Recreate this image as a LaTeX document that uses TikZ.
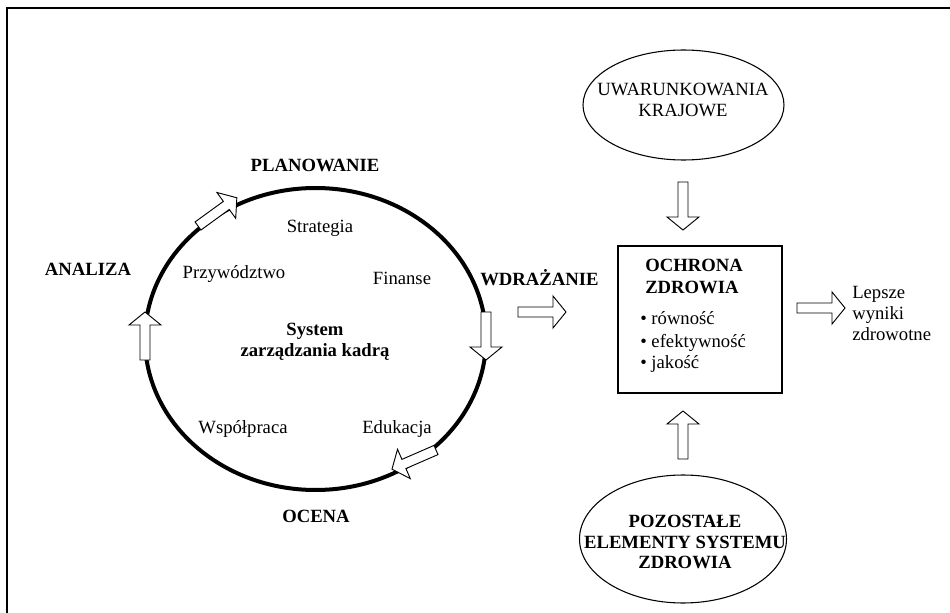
\documentclass[tikz,border=0pt]{standalone}
\usepackage{fontspec}
\setmainfont{Liberation Serif}
\usetikzlibrary{shapes.geometric}
\begin{document}
\begin{tikzpicture}[x=0.75pt,y=-0.75pt,
  txt/.style={inner sep=0pt, anchor=base, font=\fontsize{14}{16}\selectfont},
  btxt/.style={inner sep=0pt, anchor=base, font=\fontsize{14}{16}\selectfont\bfseries},
  oval/.style={ellipse, draw, line width=0.8pt, inner sep=0pt},
  blockarr/.pic={\draw[fill=white, line width=0.7pt, line join=miter]
     (0,-5)--(35,-5)--(35,-16)--(48,0)--(35,16)--(35,5)--(0,5)--cycle;}
]
\useasboundingbox (0,0) rectangle (950,613);
% frame
\coordinate (fbl) at (7,613);
\coordinate (ftl) at (7,8);
\coordinate (ftr) at (950,8);
\draw[line width=1.3pt] (fbl) -- (ftl) -- (ftr);

% main cycle
\node[ellipse, draw, line width=3pt, inner sep=0pt,
      minimum width=255.75pt, minimum height=226.5pt] (hrm) at (315.5,339) {};
\pic[rotate=90] at (145,360) {blockarr};
\pic[rotate=-90] at (486,312) {blockarr};
\pic[rotate=36] at (198,226) {blockarr};
\pic[rotate=-156.5] at (436,450) {blockarr};

\node[btxt] (plan) at (315,172) {PLANOWANIE};
\node[btxt] (anal) at (88,276) {ANALIZA};
\node[btxt, anchor=base west] (wdr) at (480,285) {WDRAŻANIE};
\node[btxt] (ocena) at (316,522) {OCENA};

\node[txt] (strat) at (320,233) {Strategia};
\node[txt] (przyw) at (234,278) {Przywództwo};
\node[txt] (fin) at (402,284) {Finanse};
\node[btxt] (sys1) at (315,335) {System};
\node[btxt] (sys2) at (315,356) {zarządzania kadrą};
\node[txt] (wsp) at (243,433) {Współpraca};
\node[txt] (edu) at (397,433) {Edukacja};

% health box
\node[draw, line width=0.9pt, inner sep=0pt, minimum width=123pt,
      minimum height=110.25pt] (box) at (700,319.5) {};
\node[btxt, anchor=base west] (och1) at (645,272) {OCHRONA};
\node[btxt, anchor=base west] (och2) at (645,293) {ZDROWIA};
\node[txt, anchor=base west] (b1) at (640,324) {• równość};
\node[txt, anchor=base west] (b2) at (640,347) {• efektywność};
\node[txt, anchor=base west] (b3) at (640,368) {• jakość};

\pic at (518,312) {blockarr};
\pic at (797,308) {blockarr};

\node[txt, anchor=base west] (l1) at (852,298) {Lepsze};
\node[txt, anchor=base west] (l2) at (852,319) {wyniki};
\node[txt, anchor=base west] (l3) at (852,340) {zdrowotne};

% top ellipse
\node[oval, minimum width=150.75pt, minimum height=82.5pt] (uwar) at (683.5,105) {};
\node[txt] (u1) at (683,96) {UWARUNKOWANIA};
\node[txt] (u2) at (683,117) {KRAJOWE};
\pic[rotate=-90] at (683,182) {blockarr};

% bottom ellipse
\node[oval, minimum width=155.25pt, minimum height=96pt] (poz) at (683,539) {};
\node[btxt] (p1) at (685,527) {POZOSTAŁE};
\node[btxt] (p2) at (685,548) {ELEMENTY SYSTEMU};
\node[btxt] (p3) at (685,568) {ZDROWIA};
\pic[rotate=90] at (683,459) {blockarr};
\end{tikzpicture}
\end{document}
